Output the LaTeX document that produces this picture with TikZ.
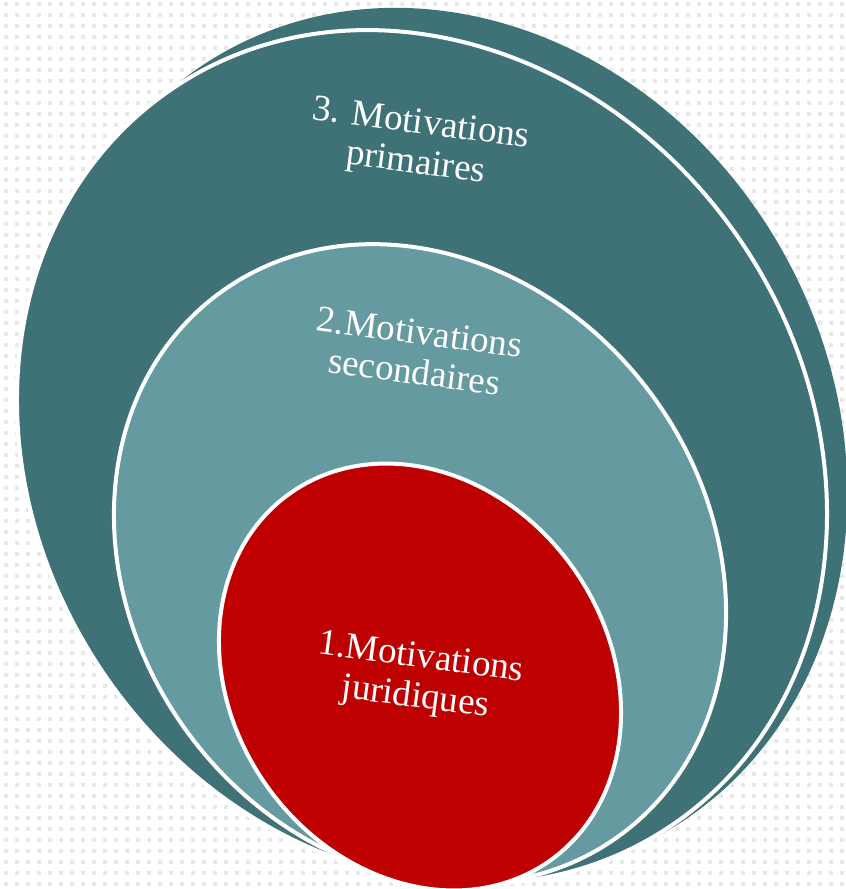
\documentclass[tikz,border=0pt]{standalone}
\usepackage{fontspec}
\setmainfont{Liberation Serif}
\definecolor{teal_dark}		{RGB}{62,114,119}
\definecolor{teal_light}	{RGB}{101,154,160}
\definecolor{brick_red}		{RGB}{190,0,0}
\definecolor{dot_gray}		{RGB}{232,232,232}

\begin{document}
\begin{tikzpicture}[x = 1pt, y = 1pt,
		ringBack/.style  = {fill = teal_dark},
		ringOuter/.style = {fill = teal_dark,
			draw         = white,
			line width   = 4pt},
		ringMid/.style   = {fill = teal_light,
			draw         = white,
			line width   = 4pt},
		ringCore/.style  = {fill = brick_red,
			draw         = white,
			line width   = 4pt},
		ringText/.style  = {text = white,
			align        = center,
			rotate       = -7.5,
			font         = \fontsize{37}{40}\selectfont}]
	
	\useasboundingbox (0,0) rectangle (846,889);
	\clip (0,0) rectangle (846,889);
	\fill[white] (0,0) rectangle (846,889);
	
	% dotted background
	\fill[dot_gray] \foreach \i in {0,...,76} {\foreach \j in {0,...,80} {(4+11*\i, 3+11*\j) rectangle ++(4,4)}};
	
	\fill[ringBack, shift={(443,446)}, rotate=29] (0,0) ellipse [x radius=390, y radius=448];
	\filldraw[ringOuter, shift={(422,432)}, rotate=34.3] (0,0) ellipse [x radius=385, y radius=445];
	\filldraw[ringMid, shift={(420,325)}, rotate=37] (0,0) ellipse [x radius=287, y radius=337];
	\filldraw[ringCore, shift={(420,212)}, rotate=35.2] (0,0) ellipse [x radius=188, y radius=225];
	
	\node[ringText] (Primary)   at (418,744) {3. Motivations \\ primaires};
	\node[ringText] (Secondary) at (417,537) {2.Motivations \\ secondaires};
	\node[ringText] (Legal)     at (418,210) {1.Motivations \\ juridiques};
	
\end{tikzpicture}
\end{document}
